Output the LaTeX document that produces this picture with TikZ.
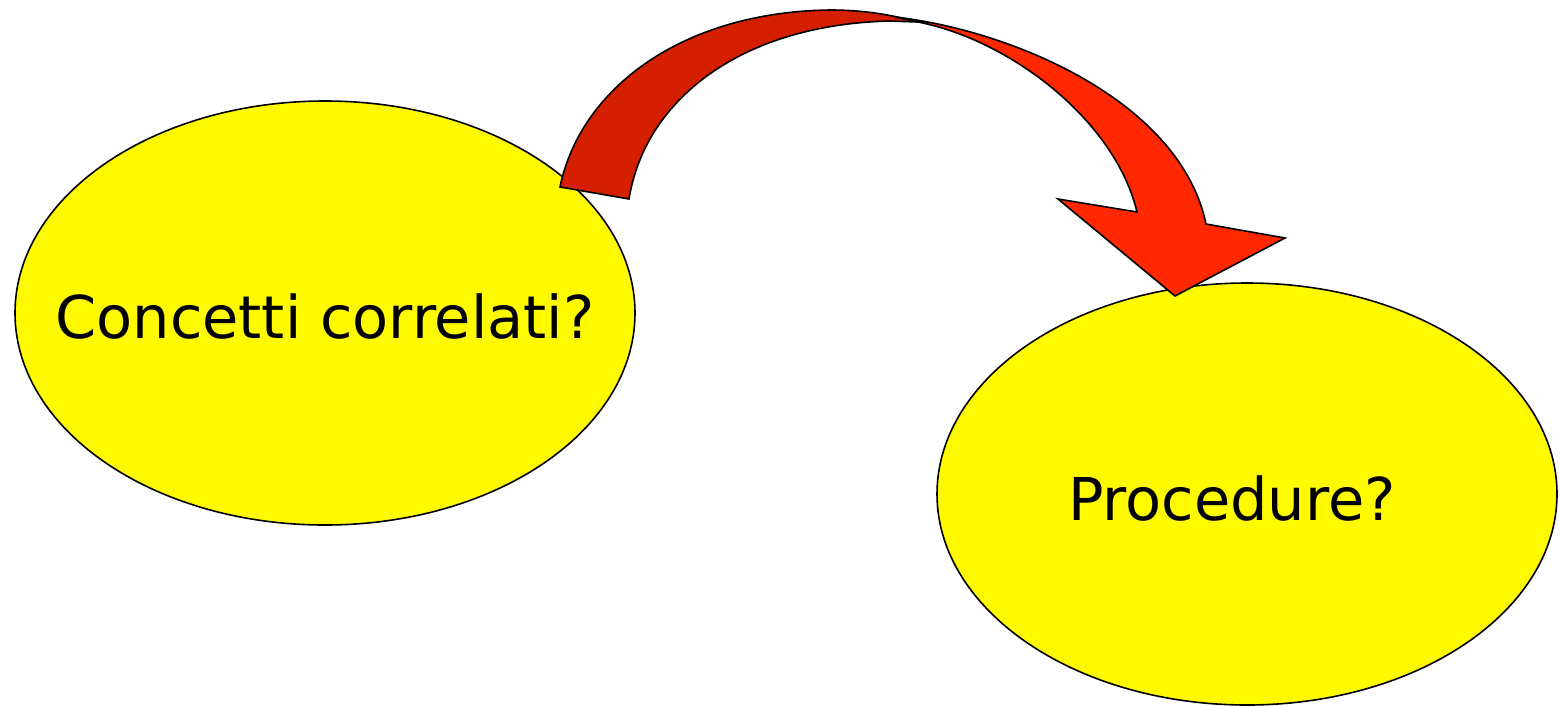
\documentclass[tikz,border=0pt]{standalone}
\usepackage{fontspec}
\setmainfont{DejaVu Sans}
\definecolor{ellfill}{RGB}{255,250,0}
\definecolor{arrdark}{RGB}{212,32,0}
\definecolor{arrbright}{RGB}{255,40,0}
\tikzset{
  bubble/.style={draw=black, line width=1.6pt, fill=ellfill},
  arrowpart/.style={draw=black, line width=1.6pt, line join=miter},
  bubbletext/.style={font=\fontsize{59}{66}\selectfont, text=black, inner sep=0pt}
}
\begin{document}
\begin{tikzpicture}[x=1pt,y=-1pt]
\useasboundingbox (0,0) rectangle (1560,705);
% ellipses
\draw[bubble] (325,313) ellipse [x radius=310, y radius=212];
\draw[bubble] (1247,494) ellipse [x radius=310, y radius=211];
\node[bubbletext] (c) at (325,316) {Concetti correlati?};
\node[bubbletext] (p) at (1232,498) {Procedure?};
% curved arrow: back (dark) part
\draw[arrowpart, fill=arrdark] (560,187) .. controls (580,90) and (680,12) .. (830,10)
  .. controls (865,10) and (892,15) .. (918,22)
  -- (889,21) .. controls (740,25) and (645,100) .. (629,199) -- cycle;
% curved arrow: front (bright) part with head
\draw[arrowpart, fill=arrbright] (895,17) .. controls (1010,30) and (1180,100) .. (1206,224)
  -- (1285,238) -- (1175,296) -- (1058,199) -- (1137,212)
  .. controls (1115,120) and (1010,40) .. (918,22) -- cycle;
\end{tikzpicture}
\end{document}
